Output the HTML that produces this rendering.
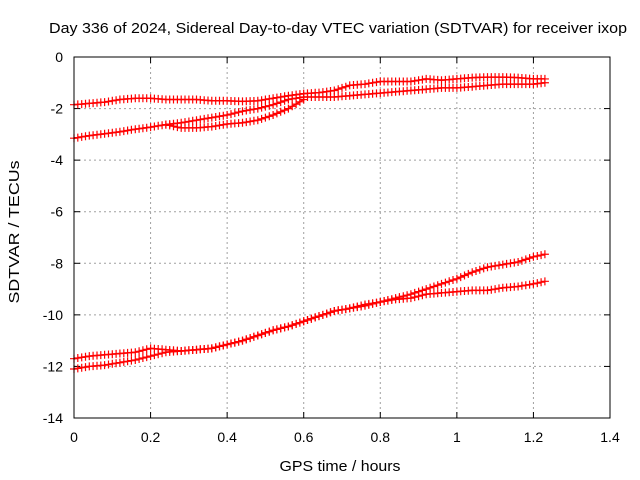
<!DOCTYPE html>
<html><head><meta charset="utf-8"><style>
body{margin:0;background:#fff;}
svg{display:block;font-family:"Liberation Sans",sans-serif;}
</style></head><body>
<svg id="chart" width="640" height="480" viewBox="0 0 640 480">
<rect width="640" height="480" fill="#fff"/>
<text x="338" y="33" font-size="15" text-anchor="middle" textLength="578" lengthAdjust="spacingAndGlyphs" fill="#000">Day 336 of 2024, Sidereal Day-to-day VTEC variation (SDTVAR) for receiver ixop</text>
<text x="340" y="471" font-size="15" text-anchor="middle" textLength="121" lengthAdjust="spacingAndGlyphs">GPS time / hours</text>
<text transform="translate(19,232) rotate(-90)" font-size="15" text-anchor="middle" textLength="143" lengthAdjust="spacingAndGlyphs">SDTVAR / TECUs</text>
<g id="grid"></g><g id="ticks"></g><g id="series"></g>
<rect x="74" y="57" width="536" height="361" fill="none" stroke="#000" stroke-width="1"/>
</svg>
<script>
const xTicks=[0,0.2,0.4,0.6,0.8,1,1.2,1.4];
const xTickLabels=["0","0.2","0.4","0.6","0.8","1","1.2","1.4"];
const yTicks=[0,-2,-4,-6,-8,-10,-12,-14];
const yTickLabels=["0","-2","-4","-6","-8","-10","-12","-14"];
const xA=[0,0.04,0.08,0.12,0.16,0.2,0.24,0.28,0.32,0.36,0.4,0.44,0.48,0.52,0.56,0.6,0.64,0.68,0.72,0.76,0.8,0.84,0.88,0.92,0.96,1.0,1.04,1.08,1.12,1.16,1.2,1.23];
const seriesA=[-1.85,-1.8,-1.75,-1.65,-1.6,-1.6,-1.65,-1.65,-1.65,-1.7,-1.7,-1.72,-1.7,-1.6,-1.5,-1.42,-1.38,-1.3,-1.1,-1.05,-0.95,-0.95,-0.95,-0.85,-0.9,-0.85,-0.8,-0.78,-0.78,-0.8,-0.85,-0.85];
const seriesB=[-3.15,-3.05,-2.98,-2.9,-2.8,-2.72,-2.62,-2.55,-2.45,-2.35,-2.25,-2.1,-2.0,-1.85,-1.65,-1.55,-1.55,-1.55,-1.5,-1.45,-1.4,-1.35,-1.3,-1.25,-1.2,-1.2,-1.15,-1.1,-1.05,-1.05,-1.05,-1.0];
const xC=[0.24,0.28,0.32,0.36,0.4,0.44,0.48,0.52,0.56,0.6];
const seriesC=[-2.62,-2.75,-2.75,-2.7,-2.6,-2.55,-2.45,-2.25,-2.0,-1.65];
const seriesD=[-11.7,-11.6,-11.55,-11.5,-11.45,-11.3,-11.35,-11.4,-11.35,-11.3,-11.15,-11.0,-10.8,-10.6,-10.45,-10.25,-10.05,-9.85,-9.75,-9.65,-9.5,-9.35,-9.2,-9.0,-8.8,-8.6,-8.35,-8.15,-8.05,-7.95,-7.75,-7.65];
const seriesE=[-12.1,-12.0,-11.95,-11.85,-11.75,-11.6,-11.45,-11.4,-11.35,-11.3,-11.15,-11.0,-10.8,-10.6,-10.45,-10.25,-10.05,-9.85,-9.75,-9.6,-9.5,-9.4,-9.35,-9.2,-9.15,-9.1,-9.05,-9.05,-8.95,-8.9,-8.8,-8.7];
const NS="http://www.w3.org/2000/svg";
const L=74,R=610,T=57,B=418;
const xs=v=>L+(v-0)/1.4*(R-L);
const ys=v=>T+(0-v)/14*(B-T);
function mk(tag,attrs,parent){const e=document.createElementNS(NS,tag);for(const k in attrs)e.setAttribute(k,attrs[k]);parent.appendChild(e);return e;}
const grid=document.getElementById('grid'),ticks=document.getElementById('ticks'),ser=document.getElementById('series');
xTicks.forEach((t,i)=>{const x=xs(t);
 if(i>0&&i<xTicks.length-1){const g=mk('line',{x1:x,x2:x,y1:T,y2:B,stroke:'#a0a0a0','stroke-dasharray':'2,3'},grid);
 
 }
 mk('line',{x1:x,x2:x,y1:B,y2:B-6,stroke:'#000'},ticks);mk('line',{x1:x,x2:x,y1:T,y2:T+6,stroke:'#000'},ticks);
 const tx=mk('text',{x:x,y:B+24,'font-size':14,'text-anchor':'middle'},ticks);tx.textContent=xTickLabels[i];
 
 });
yTicks.forEach((t,i)=>{const y=ys(t);
 if(i>0&&i<yTicks.length-1){const g=mk('line',{x1:L,x2:R,y1:y,y2:y,stroke:'#a0a0a0','stroke-dasharray':'2,3'},grid);
 
 }
 mk('line',{x1:L,x2:L+6,y1:y,y2:y,stroke:'#000'},ticks);mk('line',{x1:R,x2:R-6,y1:y,y2:y,stroke:'#000'},ticks);
 const tx=mk('text',{x:L-11,y:y+5,'font-size':14,'text-anchor':'end'},ticks);tx.textContent=yTickLabels[i];
 
 });
function drawSeries(xv,yv,name){
 const g=mk('g',{},ser);
 
 
 let d='';let marks='';
 for(let i=0;i<xv.length;i++){
  const x=xs(xv[i]),y=ys(yv[i]);d+=(i?'L':'M')+x.toFixed(1)+' '+y.toFixed(1);
  if(i<xv.length-1){const x2=xs(xv[i+1]),y2=ys(yv[i+1]);const n=Math.max(1,Math.round((x2-x)/4));
   for(let k=0;k<n;k++){const px=x+(x2-x)*k/n,py=y+(y2-y)*k/n;marks+=`M${(px-4).toFixed(1)} ${py.toFixed(1)}h8M${px.toFixed(1)} ${(py-4).toFixed(1)}v8`;}}
  else marks+=`M${x-4} ${y}h8M${x} ${y-4}v8`;
 }
 mk('path',{d:d,fill:'none',stroke:'#f00','stroke-width':1.5},g);
 mk('path',{d:marks,fill:'none',stroke:'#f00','stroke-width':1.2},g);
}
drawSeries(xA,seriesA,'series-a');
drawSeries(xA,seriesB,'series-b');
drawSeries(xC,seriesC,'series-c');
drawSeries(xA,seriesD,'series-d');
drawSeries(xA,seriesE,'series-e');
</script>
</body></html>
